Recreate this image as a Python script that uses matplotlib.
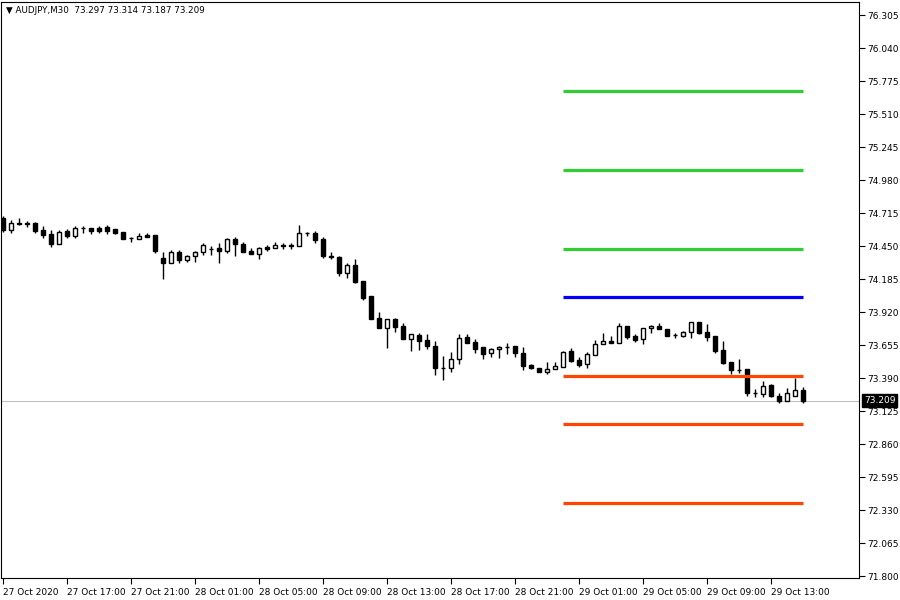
import numpy as np
import matplotlib
matplotlib.use('Agg')
import matplotlib.pyplot as plt

# AUDJPY M30, 27 Oct 2020 13:00 -> 29 Oct 2020 15:00 (one row per bar)
opens = [74.676, 74.579, 74.635, 74.635, 74.635, 74.579, 74.547, 74.467, 74.571, 74.531,
         74.595, 74.595, 74.595, 74.603, 74.587, 74.563, 74.515, 74.507, 74.539, 74.539,
         74.354, 74.314, 74.402, 74.338, 74.370, 74.402, 74.427, 74.435, 74.410, 74.507,
         74.467, 74.410, 74.386, 74.443, 74.435, 74.459, 74.451, 74.451, 74.555, 74.555,
         74.507, 74.370, 74.362, 74.234, 74.298, 74.169, 74.049, 73.872, 73.792, 73.864,
         73.808, 73.704, 73.736, 73.696, 73.647, 73.471, 73.471, 73.543, 73.720, 73.680,
         73.639, 73.591, 73.623, 73.639, 73.647, 73.591, 73.495, 73.471, 73.439, 73.463,
         73.479, 73.607, 73.535, 73.503, 73.575, 73.663, 73.688, 73.672, 73.808, 73.728,
         73.704, 73.792, 73.808, 73.784, 73.736, 73.728, 73.760, 73.840, 73.760, 73.728,
         73.615, 73.519, 73.455, 73.463, 73.270, 73.262, 73.334, 73.246, 73.206, 73.246,
         73.297]
highs = [74.690, 74.659, 74.676, 74.651, 74.643, 74.611, 74.579, 74.579, 74.587, 74.611,
         74.611, 74.597, 74.611, 74.619, 74.589, 74.565, 74.523, 74.555, 74.555, 74.541,
         74.402, 74.418, 74.418, 74.378, 74.410, 74.475, 74.451, 74.475, 74.515, 74.523,
         74.483, 74.435, 74.443, 74.459, 74.483, 74.475, 74.475, 74.619, 74.563, 74.571,
         74.523, 74.402, 74.370, 74.314, 74.346, 74.171, 74.051, 73.920, 73.866, 73.872,
         73.832, 73.746, 73.752, 73.744, 73.688, 73.567, 73.599, 73.744, 73.744, 73.704,
         73.641, 73.631, 73.647, 73.672, 73.649, 73.639, 73.503, 73.473, 73.519, 73.519,
         73.607, 73.631, 73.559, 73.599, 73.696, 73.752, 73.728, 73.832, 73.810, 73.744,
         73.794, 73.816, 73.832, 73.786, 73.752, 73.768, 73.842, 73.842, 73.824, 73.730,
         73.688, 73.521, 73.543, 73.465, 73.302, 73.366, 73.342, 73.270, 73.310, 73.390,
         73.314]
lows = [74.563, 74.555, 74.619, 74.603, 74.555, 74.515, 74.443, 74.467, 74.515, 74.515,
        74.555, 74.547, 74.555, 74.547, 74.547, 74.505, 74.483, 74.505, 74.521, 74.394,
        74.186, 74.312, 74.314, 74.322, 74.322, 74.378, 74.378, 74.314, 74.394, 74.370,
        74.400, 74.384, 74.346, 74.410, 74.433, 74.427, 74.427, 74.449, 74.531, 74.475,
        74.354, 74.346, 74.210, 74.194, 74.153, 74.017, 73.862, 73.790, 73.631, 73.760,
        73.702, 73.607, 73.615, 73.623, 73.414, 73.374, 73.439, 73.503, 73.670, 73.591,
        73.543, 73.559, 73.551, 73.583, 73.559, 73.455, 73.463, 73.437, 73.422, 73.461,
        73.477, 73.519, 73.479, 73.471, 73.573, 73.661, 73.670, 73.670, 73.704, 73.680,
        73.663, 73.752, 73.782, 73.726, 73.712, 73.720, 73.712, 73.744, 73.688, 73.591,
        73.503, 73.422, 73.431, 73.246, 73.238, 73.238, 73.238, 73.190, 73.204, 73.244,
        73.187]
closes = [74.579, 74.635, 74.627, 74.631, 74.571, 74.539, 74.467, 74.563, 74.531, 74.595,
          74.591, 74.571, 74.571, 74.571, 74.555, 74.507, 74.511, 74.531, 74.523, 74.410,
          74.314, 74.402, 74.338, 74.370, 74.402, 74.459, 74.423, 74.410, 74.507, 74.467,
          74.402, 74.386, 74.435, 74.427, 74.459, 74.451, 74.455, 74.555, 74.551, 74.499,
          74.370, 74.366, 74.234, 74.298, 74.161, 74.033, 73.864, 73.792, 73.864, 73.800,
          73.704, 73.744, 73.688, 73.647, 73.471, 73.469, 73.543, 73.712, 73.672, 73.623,
          73.583, 73.623, 73.639, 73.637, 73.591, 73.487, 73.471, 73.439, 73.463, 73.487,
          73.599, 73.527, 73.495, 73.583, 73.663, 73.688, 73.672, 73.808, 73.720, 73.696,
          73.792, 73.808, 73.784, 73.728, 73.734, 73.760, 73.840, 73.752, 73.720, 73.607,
          73.511, 73.455, 73.453, 73.270, 73.268, 73.326, 73.246, 73.206, 73.270, 73.294,
          73.209]

# pivot levels drawn over the last 30 bars
resist_levels = [75.696, 75.061, 74.427]
pivot_level = 74.041
support_levels = [73.406, 73.021, 72.386]
level_start, level_end = 70, 100

time_labels = ['27 Oct 2020', '27 Oct 17:00', '27 Oct 21:00', '28 Oct 01:00', '28 Oct 05:00',
               '28 Oct 09:00', '28 Oct 13:00', '28 Oct 17:00', '28 Oct 21:00', '29 Oct 01:00',
               '29 Oct 05:00', '29 Oct 09:00', '29 Oct 13:00']
bars_per_label = 8

price_ticks = [71.800, 72.065, 72.330, 72.595, 72.860, 73.125, 73.390, 73.655, 73.920,
               74.185, 74.450, 74.715, 74.980, 75.245, 75.510, 75.775, 76.040, 76.305]

plt.rcParams['font.family'] = ['DejaVu Sans']

fig = plt.figure(figsize=(9, 6), dpi=100)
ax = fig.add_axes([1 / 900, 22 / 600, 858 / 900, 576 / 600])

opens = np.array(opens)
closes = np.array(closes)
idx = np.arange(len(opens))

# wicks
ax.vlines(idx, lows, highs, color='black', linewidth=1, zorder=2)

# bodies
up = closes >= opens
body_lo = np.minimum(opens, closes)
body_h = np.abs(closes - opens)
ax.bar(idx[up], body_h[up], bottom=body_lo[up], width=0.6, color='white',
       edgecolor='black', linewidth=1, zorder=3)
ax.bar(idx[~up], body_h[~up], bottom=body_lo[~up], width=0.6, color='black',
       edgecolor='black', linewidth=1, zorder=3)

# level lines
for lv in resist_levels:
    ax.hlines(lv, level_start, level_end, color='#32CD32', linewidth=2.3, zorder=4)
ax.hlines(pivot_level, level_start, level_end, color='#0000FF', linewidth=2.3, zorder=4)
for lv in support_levels:
    ax.hlines(lv, level_start, level_end, color='#FF4500', linewidth=2.3, zorder=4)

# current bid line
last = closes[-1]
ax.axhline(last, color='#C0C0C0', linewidth=0.8, zorder=1)

ax.set_xlim(-0.25, 107)
ax.set_ylim(71.784, 76.410)

ax.set_xticks(np.arange(len(time_labels)) * bars_per_label)
ax.set_xticklabels(time_labels, fontsize=6.5, ha='left')
ax.yaxis.tick_right()
ax.set_yticks(price_ticks)
ax.set_yticklabels([f'{p:.3f}' for p in price_ticks], fontsize=6.5)
ax.tick_params(axis='both', direction='out', length=4, width=0.8, pad=2)
ax.tick_params(axis='x', pad=3)
for s in ax.spines.values():
    s.set_linewidth(0.8)

ax.text(1.006, last, f'{last:.3f}', transform=ax.get_yaxis_transform(), fontsize=6.5,
        color='white', va='center', ha='left',
        bbox=dict(boxstyle='square,pad=0.2', facecolor='black', edgecolor='black'),
        zorder=10, clip_on=False)
ax.text(0.006, 0.985, '\u25bc AUDJPY,M30  73.297 73.314 73.187 73.209',
        transform=ax.transAxes, fontsize=6.3, va='center', ha='left')

fig.savefig('out.png', dpi=100)
